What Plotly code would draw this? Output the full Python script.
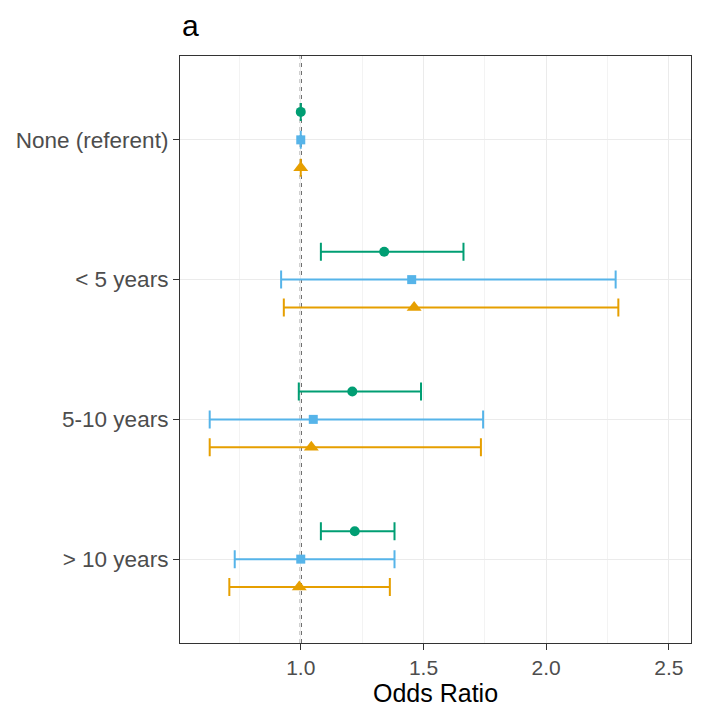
import plotly.graph_objects as go

categories = ["None (referent)", "< 5 years", "5-10 years", "> 10 years"]
x_ticks = [1.0, 1.5, 2.0, 2.5]

# Series (top to bottom within each category)
green_or = [1.0, 1.34, 1.21, 1.22]
green_lo = [1.0, 1.082, 0.992, 1.082]
green_hi = [1.0, 1.663, 1.49, 1.382]

blue_or = [1.0, 1.452, 1.051, 1.0]
blue_lo = [1.0, 0.92, 0.629, 0.731]
blue_hi = [1.0, 2.283, 1.743, 1.382]

orange_or = [1.0, 1.462, 1.043, 0.994]
orange_lo = [1.0, 0.931, 0.629, 0.709]
orange_hi = [1.0, 2.294, 1.734, 1.363]

cat_pos = [4, 3, 2, 1]

series = [
    ("green", green_or, green_lo, green_hi, "#009E73", "circle", 0.2, 10),
    ("blue", blue_or, blue_lo, blue_hi, "#56B4E9", "square", 0.0, 9),
    ("orange", orange_or, orange_lo, orange_hi, "#E69F00", "triangle-up", -0.2, 13),
]

fig = go.Figure()
for name, orv, lo, hi, color, sym, off, msize in series:
    ys = [p + off for p in cat_pos]
    plus = [(h - o) if h != o else None for h, o in zip(hi, orv)]
    minus = [(o - l) if l != o else None for o, l in zip(orv, lo)]
    fig.add_trace(go.Scatter(
        x=orv, y=ys, mode="markers", name=name, showlegend=False,
        marker=dict(color=color, symbol=sym, size=msize),
        error_x=dict(type="data", symmetric=False, array=plus, arrayminus=minus,
                     color=color, thickness=2, width=9, visible=True),
    ))

fig.add_shape(type="line", x0=1.0, x1=1.0, y0=0, y1=1, xref="x", yref="paper",
              line=dict(color="#444444", width=2, dash="4px,4px"), layer="between")

# page body has an 8px margin; figure sized to fill the remaining window
W, H = 711, 705
fig.update_layout(
    width=W, height=H,
    margin=dict(l=172, r=28, t=48, b=70),
    plot_bgcolor="white", paper_bgcolor="white",
    font=dict(family="Liberation Sans, Arial, sans-serif"),
    title=dict(text="a", x=174/W, xanchor="left", y=1-17/H, yanchor="middle",
               font=dict(size=30, color="black")),
    xaxis=dict(
        range=[0.508, 2.59], tickvals=x_ticks, ticktext=[f"{v:.1f}" for v in x_ticks],
        showgrid=True, gridcolor="#EBEBEB", gridwidth=1.2,
        minor=dict(showgrid=True, gridcolor="#F3F3F3", gridwidth=0.8, dtick=0.25, tick0=0.75),
        ticks="outside", ticklen=6, tickcolor="#333333", tickwidth=1.2,
        tickfont=dict(size=21, color="#4D4D4D"),
        title=dict(text="Odds Ratio", font=dict(size=25, color="black"), standoff=4),
        showline=True, linecolor="#333333", linewidth=1.2, mirror=True, zeroline=False,
        automargin=False,
    ),
    yaxis=dict(
        range=[0.4, 4.6], tickvals=cat_pos, ticktext=categories,
        showgrid=True, gridcolor="#EBEBEB", gridwidth=1.2,
        ticks="outside", ticklen=6, tickcolor="#333333", tickwidth=1.2,
        tickfont=dict(size=22.5, color="#4D4D4D"),
        showline=True, linecolor="#333333", linewidth=1.2, mirror=True, zeroline=False,
        automargin=False,
    ),
)

fig.write_html("out.html")
